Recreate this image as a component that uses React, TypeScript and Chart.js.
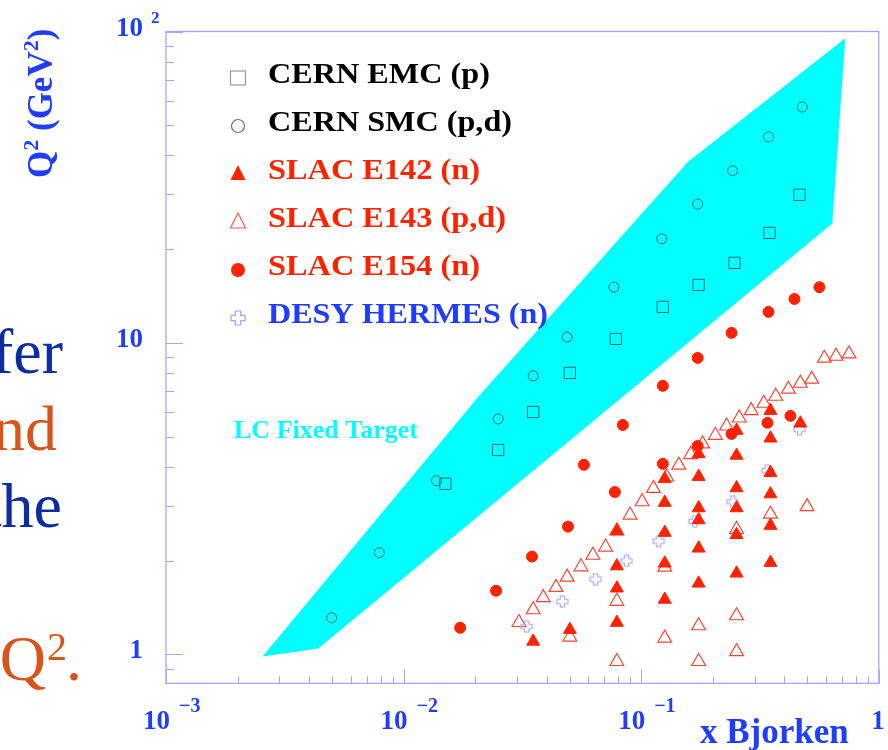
import React, { useEffect, useRef } from 'react';
import { Chart, registerables } from 'chart.js';

Chart.register(...registerables);

// ---------------- data ----------------
const seriesNames = ['CERN EMC (p)', 'CERN SMC (p,d)', 'SLAC E142 (n)', 'SLAC E143 (p,d)', 'SLAC E154 (n)', 'DESY HERMES (n)'];
const regionLabel = 'LC Fixed Target';
const xTitle = 'x Bjorken';
const yTitleParts = ['Q', '2', ' (GeV', '2', ')'];
const slideText = ['fer', 'nd', 'the', 'Q', '2', '.'];

const emcX = [0.0150, 0.0250, 0.0351, 0.0501, 0.0782, 0.1233, 0.1745, 0.247, 0.3467, 0.4634];
const emcY = [3.53, 4.53, 6.00, 8.01, 10.3, 13.05, 15.35, 18.07, 22.55, 29.9];

const smcX = [0.00498, 0.0079, 0.01375, 0.025, 0.0351, 0.0488, 0.0767, 0.122, 0.1729, 0.2425, 0.3434, 0.4766];
const smcY = [1.31, 2.12, 3.61, 5.70, 7.84, 10.45, 15.1, 21.6, 27.9, 35.7, 45.9, 57.2];

const e142X = [0.0351, 0.0501,
  0.079, 0.079, 0.079, 0.079,
  0.1256, 0.1256, 0.1256, 0.1256, 0.1256,
  0.1745, 0.1745, 0.1745, 0.1745, 0.1745, 0.1745,
  0.252, 0.252, 0.252, 0.252, 0.252, 0.252,
  0.35, 0.35, 0.35, 0.35, 0.35, 0.35,
  0.4677];
const e142Y = [1.10, 1.20,
  1.265, 1.63, 1.92, 2.49,
  1.50, 1.96, 2.46, 3.07, 3.66,
  1.69, 2.19, 2.70, 2.95, 3.72, 4.40,
  1.82, 2.42, 2.95, 3.42, 4.35, 5.23,
  1.97, 2.59, 3.27, 3.83, 4.94, 6.06,
  5.52];

const e143X = [0.0306, 0.0351, 0.0387, 0.0438, 0.0488, 0.0558, 0.0626, 0.0708, 0.079, 0.0898, 0.1009, 0.1126,
  0.128, 0.1439, 0.1615, 0.1814, 0.2051, 0.2288, 0.2586, 0.2904, 0.328, 0.3683, 0.4165, 0.4677, 0.522, 0.590,
  0.661, 0.749,
  0.0501, 0.079, 0.079, 0.1256, 0.1256, 0.1745, 0.1745, 0.252, 0.252, 0.252, 0.35, 0.499];
const e143Y = [1.265, 1.39, 1.52, 1.64, 1.77, 1.91, 2.08, 2.21, 2.49, 2.80, 3.09, 3.41,
  3.71, 4.05, 4.38, 4.74, 5.05, 5.41, 5.74, 6.06, 6.40, 6.74, 7.10, 7.42, 7.65, 8.93,
  9.06, 9.22,
  1.136, 1.48, 0.948, 1.905, 1.127, 1.235, 0.948, 2.52, 1.33, 1.02, 2.82, 2.98];

const e154X = [0.0173, 0.0245, 0.0347, 0.0492, 0.0574, 0.0775, 0.0837, 0.1233, 0.1233, 0.1729, 0.1729,
  0.240, 0.240, 0.340, 0.3434, 0.4246, 0.4416, 0.5623];
const e154Y = [1.217, 1.60, 2.06, 2.57, 4.06, 3.32, 5.45, 7.28, 4.09, 8.95, 4.67,
  10.77, 5.10, 5.54, 12.58, 5.83, 13.84, 15.1];

const hermesX = [0.033, 0.0466, 0.0643, 0.0868, 0.1186, 0.168, 0.243, 0.340, 0.4634];
const hermesY = [1.228, 1.477, 1.743, 1.995, 2.31, 2.67, 3.09, 3.89, 5.28];

const regionX = [0.002547, 0.0208, 0.157, 0.7225, 0.637, 0.004375, 0.002547];
const regionY = [0.984, 6.76, 38.1, 95.1, 24.2, 1.044, 0.984];

const xMin = 0.001, xMax = 1;
const yMin = 0.807, yMax = 100;
const xTickValues = [0.001, 0.01, 0.1, 1];
const xTickBase = ['10', '10', '10', '1'];
const xTickExp = ['\u22123', '\u22122', '\u22121', ''];
const yTickValues = [1, 10, 100];
const yTickBase = ['1', '10', '10'];
const yTickExp = ['', '', '2'];

// ---------------- styles ----------------
const SERIF = '"Liberation Serif", "Times New Roman", serif';
const BLUE = '#1f3cff';
const RED = '#ff2200';
const FRAME = '#a4a4ff';
const CYAN = '#00ffff';
const DARK = '#2b6a6a';

const pts = (xs: number[], ys: number[]) => xs.map((x, i) => ({ x, y: ys[i] }));

function makePlus(size: number, color: string, lw: number) {
  const c = document.createElement('canvas');
  c.width = size; c.height = size;
  const g = c.getContext('2d')!;
  const m = size / 2, a = size * 0.17, r = size / 2 - 1;
  g.strokeStyle = color; g.lineWidth = lw;
  g.beginPath();
  g.moveTo(m - a, m - r); g.lineTo(m + a, m - r); g.lineTo(m + a, m - a); g.lineTo(m + r, m - a);
  g.lineTo(m + r, m + a); g.lineTo(m + a, m + a); g.lineTo(m + a, m + r); g.lineTo(m - a, m + r);
  g.lineTo(m - a, m + a); g.lineTo(m - r, m + a); g.lineTo(m - r, m - a); g.lineTo(m - a, m - a);
  g.closePath(); g.stroke();
  return c;
}

function fitText(ctx: CanvasRenderingContext2D, t: string, x: number, y: number, w: number) {
  const w0 = ctx.measureText(t).width;
  ctx.save();
  ctx.translate(x, y);
  ctx.scale(w / w0, 1);
  ctx.textAlign = 'left';
  ctx.fillText(t, 0, 0);
  ctx.restore();
}

const legendColors = ['#000000', '#000000', RED, RED, RED, BLUE];
const legendWidths = [222, 244, 212, 238, 212, 280];

const decoPlugin = {
  id: 'deco',
  afterDraw(chart: any) {
    const { ctx, chartArea: a } = chart;
    const xs = chart.scales.x, ys = chart.scales.y;
    ctx.save();

    // frame
    ctx.strokeStyle = FRAME; ctx.lineWidth = 1.3;
    ctx.strokeRect(a.left, a.top, a.right - a.left, a.bottom - a.top);
    ctx.lineWidth = 1;
    ctx.beginPath();
    for (let d = -1; d <= 2; d++) {
      for (let m = 1; m < 10; m++) {
        const v = m * Math.pow(10, d);
        if (v < yMin || v > yMax) continue;
        const py = Math.round(ys.getPixelForValue(v)) + 0.5;
        const len = m === 1 ? 17 : 8;
        ctx.moveTo(a.left, py); ctx.lineTo(a.left + len, py);
      }
    }
    for (let d = -3; d <= 0; d++) {
      for (let m = 1; m < 10; m++) {
        const v = m * Math.pow(10, d);
        if (v < xMin || v > xMax) continue;
        const px = Math.round(xs.getPixelForValue(v)) + 0.5;
        const len = m === 1 ? 14 : 7;
        ctx.moveTo(px, a.bottom); ctx.lineTo(px, a.bottom - len);
      }
    }
    ctx.stroke();

    // tick labels
    ctx.fillStyle = BLUE;
    ctx.textBaseline = 'alphabetic';
    yTickValues.forEach((v, i) => {
      const py = ys.getPixelForValue(v);
      ctx.font = `bold 27px ${SERIF}`; ctx.textAlign = 'right';
      ctx.fillText(yTickBase[i], a.left - 23, py + 4);
      if (yTickExp[i]) {
        ctx.font = `bold 17px ${SERIF}`; ctx.textAlign = 'left';
        ctx.fillText(yTickExp[i], a.left - 15, py - 9);
      }
    });
    xTickValues.forEach((v, i) => {
      const px = xs.getPixelForValue(v);
      ctx.font = `bold 27px ${SERIF}`; ctx.textAlign = 'right';
      ctx.fillText(xTickBase[i], xTickExp[i] ? px + 4 : px + 6, a.bottom + 46);
      if (xTickExp[i]) {
        ctx.font = `bold 20px ${SERIF}`; ctx.textAlign = 'left';
        ctx.fillText(xTickExp[i], px + 13, a.bottom + 29);
      }
    });

    // x title
    ctx.font = `bold 35px ${SERIF}`; ctx.textAlign = 'left';
    ctx.fillText(xTitle, 700, 743);

    // y title (rotated)
    ctx.save();
    ctx.translate(52, 178);
    ctx.rotate(-Math.PI / 2);
    let cx = 0;
    yTitleParts.forEach((t, i) => {
      const sup = i === 1 || i === 3;
      ctx.font = sup ? `bold 22px ${SERIF}` : `bold 35px ${SERIF}`;
      ctx.fillText(t, cx, sup ? -14 : 0);
      cx += ctx.measureText(t).width;
    });
    ctx.restore();

    // legend
    seriesNames.forEach((name, i) => {
      const cy = 78 + 48 * i;
      const mx = 238;
      ctx.save();
      if (i === 0) {
        ctx.strokeStyle = '#9a9a9a'; ctx.lineWidth = 1.2;
        ctx.strokeRect(mx - 7.5, cy - 7, 15, 14);
      } else if (i === 1) {
        ctx.strokeStyle = '#6a6a6a'; ctx.lineWidth = 1.2;
        ctx.beginPath(); ctx.arc(mx, cy, 6.5, 0, Math.PI * 2); ctx.stroke();
      } else if (i === 2 || i === 3) {
        ctx.beginPath();
        ctx.moveTo(mx, cy - 9); ctx.lineTo(mx + 7.5, cy + 6); ctx.lineTo(mx - 7.5, cy + 6); ctx.closePath();
        if (i === 2) { ctx.fillStyle = RED; ctx.fill(); }
        else { ctx.strokeStyle = '#ff5a4a'; ctx.lineWidth = 1.2; ctx.stroke(); }
      } else if (i === 4) {
        ctx.fillStyle = RED;
        ctx.beginPath(); ctx.arc(mx, cy, 7, 0, Math.PI * 2); ctx.fill();
      } else {
        ctx.drawImage(makePlus(16, '#a0a0ff', 1.2), mx - 8, cy - 8);
      }
      ctx.restore();
      ctx.fillStyle = legendColors[i];
      ctx.font = `bold 30px ${SERIF}`;
      fitText(ctx, name, 268, cy + 5, legendWidths[i]);
    });

    // region label
    ctx.fillStyle = CYAN;
    ctx.font = `bold 25px ${SERIF}`;
    fitText(ctx, regionLabel, 234, 438, 184);

    // cut-off slide text on the left
    ctx.font = `64px ${SERIF}`;
    ctx.textAlign = 'right';
    ctx.fillStyle = '#0d2ca0';
    ctx.fillText(slideText[0], 63, 373);
    ctx.fillStyle = '#d9541a';
    ctx.fillText(slideText[1], 57, 450);
    ctx.fillStyle = '#0d2ca0';
    ctx.fillText(slideText[2], 62, 527);
    ctx.fillStyle = '#d9541a';
    ctx.fillText(slideText[3], 46, 680);
    ctx.textAlign = 'left';
    ctx.font = `40px ${SERIF}`;
    ctx.fillText(slideText[4], 47, 660);
    ctx.font = `64px ${SERIF}`;
    ctx.fillText(slideText[5], 66, 680);

    ctx.restore();
  },
};

export default function App() {
  const ref = useRef<HTMLCanvasElement | null>(null);
  useEffect(() => {
    document.body.style.margin = '0';
    const canvas = ref.current!;
    const plus = makePlus(13, '#a4a4ff', 1.1);
    const chart = new Chart(canvas, {
      type: 'scatter',
      data: {
        datasets: [
          { label: seriesNames[1], data: pts(smcX, smcY), pointStyle: 'circle', pointRadius: 5, borderColor: DARK, borderWidth: 1, backgroundColor: 'rgba(0,0,0,0)' },
          { label: seriesNames[0], data: pts(emcX, emcY), pointStyle: 'rect', pointRadius: 8, borderColor: DARK, borderWidth: 1, backgroundColor: 'rgba(0,0,0,0)' },
          { label: seriesNames[2], data: pts(e142X, e142Y), pointStyle: 'triangle', pointRadius: 7.5, borderColor: RED, borderWidth: 1, backgroundColor: RED },
          { label: seriesNames[4], data: pts(e154X, e154Y), pointStyle: 'circle', pointRadius: 5.5, borderColor: RED, borderWidth: 1, backgroundColor: RED },
          { label: seriesNames[5], data: pts(hermesX, hermesY), pointStyle: plus as any, pointRadius: 6 },
          { label: seriesNames[3], data: pts(e143X, e143Y), pointStyle: 'triangle', pointRadius: 8, borderColor: '#ff4433', borderWidth: 1.2, backgroundColor: 'rgba(0,0,0,0)' },
          { label: regionLabel, data: pts(regionX, regionY), showLine: true, fill: 'shape', backgroundColor: CYAN, borderColor: CYAN, borderWidth: 0, pointRadius: 0, tension: 0 } as any,
        ],
      },
      options: {
        responsive: false,
        animation: false,
        devicePixelRatio: 1,
        events: [],
        layout: { padding: { left: 166, top: 31.5, right: 7.5, bottom: 66.7 } },
        scales: {
          x: { type: 'logarithmic', min: xMin, max: xMax, display: false },
          y: { type: 'logarithmic', min: yMin, max: yMax, display: false },
        },
        plugins: { legend: { display: false }, tooltip: { enabled: false } },
      },
      plugins: [decoPlugin],
    });
    return () => chart.destroy();
  }, []);
  return <canvas ref={ref} width={888} height={750} style={{ display: 'block', width: 888, height: 750 }} />;
}
